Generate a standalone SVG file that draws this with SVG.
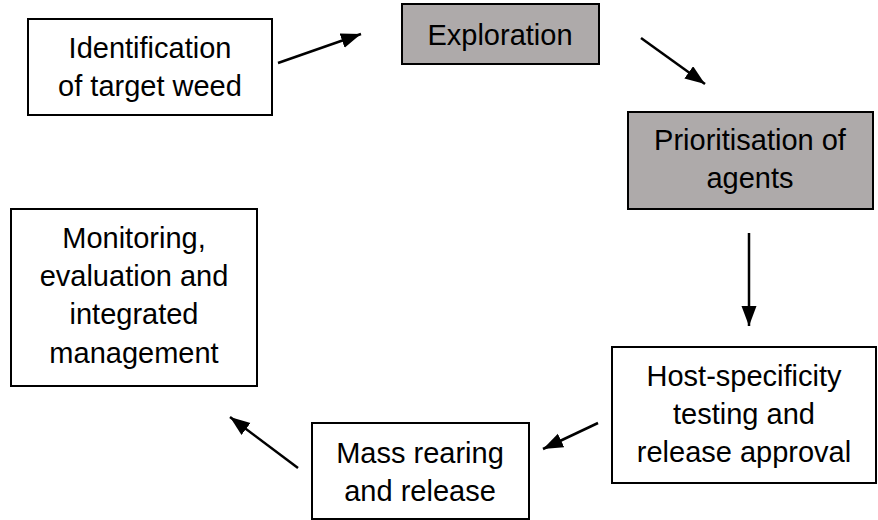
<svg xmlns="http://www.w3.org/2000/svg" width="878" height="520" viewBox="0 0 878 520">
<style>
.box{fill:#ffffff;stroke:#000000;stroke-width:2}
.grey{fill:#aeaaaa;stroke:#000000;stroke-width:2}
.t{font-family:"Liberation Sans",Arial,sans-serif;font-size:29px;fill:#000000;text-anchor:middle}
.c{stroke:#000000;stroke-width:2.5;fill:none;marker-end:url(#ah)}
</style>
<defs>
<marker id="ah" markerUnits="userSpaceOnUse" markerWidth="22" markerHeight="16" refX="20" refY="7.5" orient="auto">
<path d="M0,0 L20,7.5 L0,15 z" fill="#000000"/>
</marker>
</defs>
<rect width="878" height="520" fill="#ffffff"/>
<g id="connectors">
<line class="c" x1="278" y1="63" x2="361" y2="34"/>
<line class="c" x1="641" y1="38" x2="705" y2="84"/>
<line class="c" x1="749" y1="233" x2="749" y2="326"/>
<line class="c" x1="598" y1="423" x2="543" y2="449"/>
<line class="c" x1="298" y1="468" x2="230" y2="417"/>
</g>
<g id="identification">
<rect class="box" x="28" y="19" width="244" height="96"/>
<text class="t" x="150" y="58">Identification</text>
<text class="t" x="150" y="96">of target weed</text>
</g>
<g id="exploration">
<rect class="grey" x="402" y="4" width="197" height="60"/>
<text class="t" x="500" y="45">Exploration</text>
</g>
<g id="prioritisation">
<rect class="grey" x="628" y="112" width="245" height="97"/>
<text class="t" x="750" y="150">Prioritisation of</text>
<text class="t" x="750" y="188">agents</text>
</g>
<g id="host-specificity">
<rect class="box" x="612" y="347" width="264" height="136"/>
<text class="t" x="744" y="386">Host-specificity</text>
<text class="t" x="744" y="424">testing and</text>
<text class="t" x="744" y="462">release approval</text>
</g>
<g id="mass-rearing">
<rect class="box" x="312" y="423" width="217" height="96"/>
<text class="t" x="420" y="463">Mass rearing</text>
<text class="t" x="420" y="501">and release</text>
</g>
<g id="monitoring">
<rect class="box" x="11" y="209" width="246" height="177"/>
<text class="t" x="134" y="248">Monitoring,</text>
<text class="t" x="134" y="286">evaluation and</text>
<text class="t" x="134" y="324">integrated</text>
<text class="t" x="134" y="363">management</text>
</g>
</svg>
